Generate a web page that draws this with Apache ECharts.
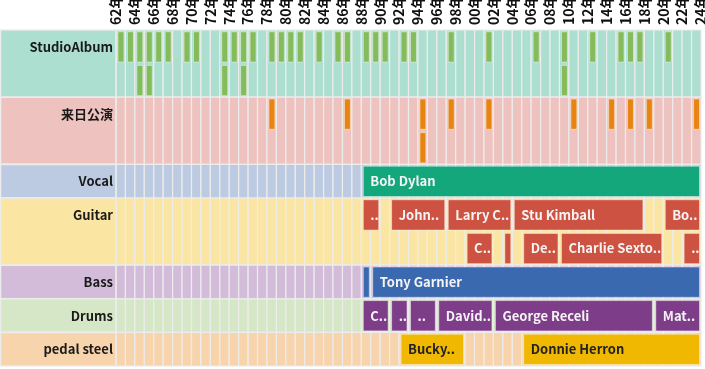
<!DOCTYPE html>
<html><head><meta charset="utf-8">
<script src="https://cdn.jsdelivr.net/npm/echarts@6/dist/echarts.min.js"></script>
<style>html,body{margin:0;padding:0;background:#fff}#c{width:705px;height:369px}</style>
</head><body><div id="c"></div>
<script>
const yearMin = 1962, yearMax = 2024;
const groupNames = ['StudioAlbum', '来日公演', 'Vocal', 'Guitar', 'Bass', 'Drums', 'pedal steel'];
const groupRowCounts = [2, 2, 1, 2, 1, 1, 1];

const albumYears = [1962,1963,1964,1965,1966,1967,1969,1970,1973,1974,1975,1976,1978,1979,1980,1981,1983,1985,1986,1988,1989,1990,1992,1993,1997,2001,2006,2009,2012,2015,2016,2017,2020];
const albumYears2 = [1964,1965,1973,1975,2009];
const japanYears = [1978,1986,1994,1997,2001,2010,2014,2016,2018,2023];
const japanYears2 = [1994];

const vocal = [['Bob Dylan', 1988, 2024]];
const guitar = [['G.E. Smith', 1988, 1990], ['John Jackson', 1991, 1997], ['Larry Campbell', 1997, 2004], ['Stu Kimball', 2004, 2018], ['Bob Britt', 2020, 2024]];
const guitar2 = [['Charlie Sexton', 1999, 2002], ['Freddie Koella', 2003, 2004], ['Denny Freeman', 2005, 2009], ['Charlie Sexton', 2009, 2020], ['Doug Lancio', 2022, 2024]];
const bass = [['Kenny Aaronson', 1988, 1989], ['Tony Garnier', 1989, 2024]];
const drums = [['Christopher Parker', 1988, 1991], ['Ian Wallace', 1991, 1993], ['Winston Watson', 1993, 1996], ['David Kemper', 1996, 2002], ['George Receli', 2002, 2019], ['Matt Chamberlain', 2019, 2024]];
const pedalSteel = [['Bucky Baxter', 1992, 1999], ['Donnie Herron', 2005, 2024]];

// styles
const bandColors = ['#acdfd0', '#eec3bf', '#bccbe2', '#fbe5a3', '#d3bcda', '#d6e7c7', '#f8d4ad'];
const markColors = ['#84bb5b', '#e88512', '#13a77b', '#ce5241', '#3b69b0', '#7e3d89', '#f1b801'];
const textColors = ['#fff', '#fff', '#f4f4f4', '#f4f4f4', '#f4f4f4', '#f4f4f4', '#222'];
const FONT = '"Noto Sans CJK JP", "Noto Sans", sans-serif';
const LABEL_FONT = 'bold 13px ' + FONT;
const gridStroke = '#ececec';

const groupStart = [];
const rowLabels = [];
groupNames.forEach((n, g) => {
  groupStart.push(rowLabels.length);
  rowLabels.push(n);
  for (let k = 1; k < groupRowCounts[g]; k++) rowLabels.push('');
});

const bgData = [];
groupNames.forEach((n, g) => {
  for (let y = yearMin; y < yearMax; y++) bgData.push([y, g]);
});

const measureCtx = document.createElement('canvas').getContext('2d');
measureCtx.font = LABEL_FONT;
function textW(t) { return measureCtx.measureText(t).width; }
function fitLabel(name, avail) {
  if (avail < 4) return '';
  if (textW(name) <= avail) return name;
  let n = name.length - 1;
  while (n > 0) {
    const t = name.slice(0, n).replace(/\s+$/, '') + '..';
    if (textW(t) <= avail) return t;
    n--;
  }
  return '..';
}

function renderBg(params, api) {
  const y = api.value(0), g = api.value(1);
  const r0 = groupStart[g], r1 = r0 + groupRowCounts[g] - 1;
  const h = api.size([0, 1])[1];
  const top = api.coord([y, r0])[1] - h / 2;
  const bot = api.coord([y, r1])[1] + h / 2;
  const x0 = api.coord([y, r0])[0], x1 = api.coord([y + 1, r0])[0];
  const children = [{
    type: 'rect', shape: { x: x0, y: top, width: x1 - x0, height: bot - top },
    style: { fill: bandColors[g], stroke: gridStroke, lineWidth: 1.2 }
  }];
  if (y === yearMin) {
    children.push({
      type: 'rect', shape: { x: 0.5, y: top, width: x0 - 0.5, height: bot - top },
      style: { fill: bandColors[g], stroke: gridStroke, lineWidth: 1.6 }
    });
  }
  return { type: 'group', children };
}

function renderTick(g) {
  return function (params, api) {
    const y = api.value(0), row = api.value(1);
    const h = api.size([0, 1])[1];
    const c0 = api.coord([y, row]), c1 = api.coord([y + 1, row]);
    return {
      type: 'rect',
      shape: { x: c0[0] + 2, y: c0[1] - h / 2 + 1.8, width: c1[0] - c0[0] - 3.5, height: h - 3.3 },
      style: { fill: markColors[g], stroke: 'rgba(255,255,255,0.45)', lineWidth: 1 }
    };
  };
}

function renderSpan(g, list) {
  return function (params, api) {
    const s = api.value(0), e = api.value(1), row = api.value(2);
    const h = api.size([0, 1])[1];
    const c0 = api.coord([s, row]), c1 = api.coord([e, row]);
    const w = c1[0] - c0[0] - 3.5;
    const name = list[params.dataIndex][0];
    return {
      type: 'rect',
      shape: { x: c0[0] + 2, y: c0[1] - h / 2 + 1.8, width: w, height: h - 3.3 },
      style: { fill: markColors[g], stroke: 'rgba(255,255,255,0.45)', lineWidth: 1 },
      textContent: {
        style: { text: fitLabel(name, w - 7.5), fill: textColors[g], font: LABEL_FONT }
      },
      textConfig: { position: 'insideLeft', distance: 7.5 }
    };
  };
}

const series = [{
  type: 'custom', data: bgData, renderItem: renderBg, silent: true, z: 1, clip: false
}];
function addTicks(years, row, g) {
  series.push({ type: 'custom', data: years.map(y => [y, row]), renderItem: renderTick(g), z: 3 });
}
addTicks(albumYears, groupStart[0], 0);
addTicks(albumYears2, groupStart[0] + 1, 0);
addTicks(japanYears, groupStart[1], 1);
addTicks(japanYears2, groupStart[1] + 1, 1);
function addSpans(list, row, g) {
  series.push({ type: 'custom', data: list.map(d => [d[1], d[2], row]), renderItem: renderSpan(g, list), z: 3 });
}
addSpans(vocal, groupStart[2], 2);
addSpans(guitar, groupStart[3], 3);
addSpans(guitar2, groupStart[3] + 1, 3);
addSpans(bass, groupStart[4], 4);
addSpans(drums, groupStart[5], 5);
addSpans(pedalSteel, groupStart[6], 6);

const chart = echarts.init(document.getElementById('c'), null, { renderer: 'canvas' });
chart.setOption({
  animation: false,
  backgroundColor: '#fff',
  grid: { left: 116, right: 4, top: 30, bottom: 3, outerBoundsMode: 'none', containLabel: false },
  xAxis: {
    type: 'value', position: 'top', min: yearMin, max: yearMax, interval: 2, z: 10,
    axisLine: { show: false }, axisTick: { show: false }, splitLine: { show: false },
    axisLabel: {
      rotate: -90, margin: 5, fontSize: 14, fontWeight: 'bold', color: '#111', fontFamily: FONT,
      formatter: v => String(v).slice(2) + '年'
    }
  },
  yAxis: {
    type: 'category', data: rowLabels, inverse: true, z: 10,
    axisLine: { show: false }, axisTick: { show: false }, splitLine: { show: false },
    axisLabel: { interval: 0, margin: 3, fontSize: 13, fontWeight: 'bold', color: '#1a1a1a', fontFamily: FONT }
  },
  series
});
</script></body></html>
